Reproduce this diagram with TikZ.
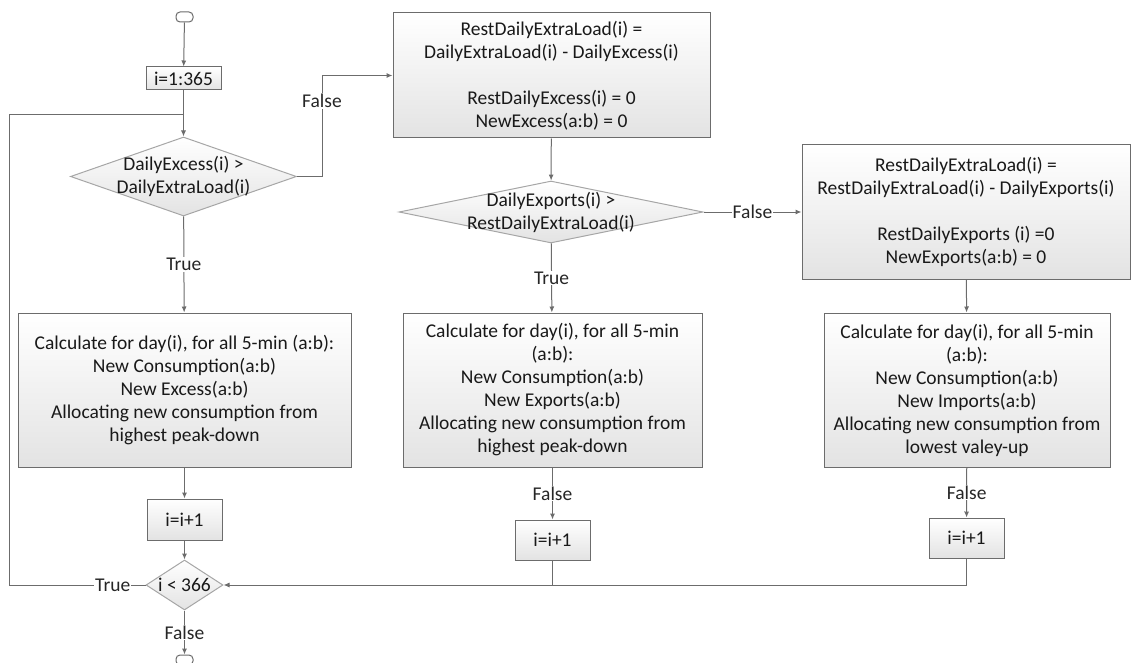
\documentclass[tikz,border=0pt]{standalone}
\usepackage{fontspec}
\setmainfont{Carlito}
\usetikzlibrary{arrows.meta,shapes.geometric}
\tikzset{>={Latex[length=6pt,width=5pt]}}

\begin{document}
\begin{tikzpicture}[x=1pt, y=-1pt, font=\fontsize{19.5}{23}\selectfont]
                        % box = shaded process block, dia = decision, lbl = text on a line
                        \tikzstyle{box}=[rectangle, draw=gray!85!black, top color=white, bottom color=gray!22, align=center, inner sep=0pt, line width=1pt, text=black!90]
                        \tikzstyle{dia}=[diamond, draw=gray!70, top color=white, bottom color=gray!22, inner sep=0pt, line width=1pt]
                        \tikzstyle{term}=[rectangle, rounded corners=4pt, draw=gray!85!black, fill=white, minimum width=17pt, minimum height=10pt, inner sep=0pt, line width=1pt]
                        \tikzstyle{lbl}=[fill=white, inner sep=1pt, text=black!85]
                        \tikzstyle{line}=[line width=1pt, gray!85!black]
                        \tikzstyle{every edge}=[draw, ->, line]
                        \tikzstyle{every label}=[align=center, text=black!90]

                        \useasboundingbox (0,0) rectangle (1131,663);

                        % left column
                        \node[term] (start) at (184.5,17) {};
                        \node[box, minimum width=75pt, minimum height=23pt] (init) at (183.5,78.5) {i=1:365};
                        \node[dia, minimum width=226pt, minimum height=79pt, label=center:{DailyExcess(i) >\\DailyExtraLoad(i)}] (dec1) at (183.5,176.5) {};
                        \node[box, minimum width=333pt, minimum height=154pt] (calc1) at (184.5,390) {Calculate for day(i), for all 5-min (a:b):\\New Consumption(a:b)\\New Excess(a:b)\\Allocating new consumption from\\highest peak-down};
                        \node[box, minimum width=75pt, minimum height=41pt] (inc1) at (184.5,519.5) {i=i+1};
                        \node[dia, minimum width=77pt, minimum height=50pt, label=center:{i < 366}] (dec3) at (184.5,585) {};
                        \node[term] (stop) at (184.5,660) {};

                        % middle column
                        \node[box, minimum width=317pt, minimum height=125pt] (rest1) at (551.5,75.5) {RestDailyExtraLoad(i) =\\DailyExtraLoad(i) - DailyExcess(i)\\[23pt]RestDailyExcess(i) = 0\\NewExcess(a:b) = 0};
                        \node[dia, minimum width=304pt, minimum height=62pt, label=center:{DailyExports(i) >\\RestDailyExtraLoad(i)}] (dec2) at (551,212) {};
                        \node[box, minimum width=299pt, minimum height=154pt] (calc2) at (552.5,390) {Calculate for day(i), for all 5-min\\(a:b):\\New Consumption(a:b)\\New Exports(a:b)\\Allocating new consumption from\\highest peak-down};
                        \node[box, minimum width=75pt, minimum height=40pt] (inc2) at (552.5,540) {i=i+1};

                        % right column
                        \node[box, minimum width=328pt, minimum height=134pt] (rest2) at (966,212) {RestDailyExtraLoad(i) =\\RestDailyExtraLoad(i) - DailyExports(i)\\[23pt]RestDailyExports (i) =0\\NewExports(a:b) = 0};
                        \node[box, minimum width=286pt, minimum height=154pt] (calc3) at (967,390) {Calculate for day(i), for all 5-min\\(a:b):\\New Consumption(a:b)\\New Imports(a:b)\\Allocating new consumption from\\lowest valey-up};
                        \node[box, minimum width=75pt, minimum height=40pt] (inc3) at (966.5,538) {i=i+1};

                        \coordinate (loop) at (9,585);
                        \coordinate (join) at (183.5,115);

                        \draw (start) edge (init);
                        \draw (init) edge (dec1);
                        \draw (dec1) edge node[lbl] {True} (calc1);
                        \draw (calc1) edge (inc1);
                        \draw (inc1) edge (dec3);
                        \draw (dec3) edge node[lbl] {False} (stop);

                        \draw[->, line] (dec1.east) -- ++(25,0) |- node[lbl, pos=0.375] {False} (rest1.west);
                        \draw (rest1) edge (dec2);
                        \draw (dec2) edge node[lbl] {True} (calc2);
                        \draw (calc2) edge node[lbl] {False} (inc2);
                        \draw (dec2.east) edge node[lbl] {False} (rest2.west);
                        \draw (rest2) edge (calc3);
                        \draw (calc3) edge node[lbl] {False} (inc3);

                        \draw[line] (dec3.west) -- node[lbl, pos=0.24] {True} (loop) |- (join);
                        \draw[->, line] (inc3.south) |- (dec3.east);
                        \draw[line] (inc2.south) -- (inc2.south |- dec3.east);

                \end{tikzpicture}
\end{document}
